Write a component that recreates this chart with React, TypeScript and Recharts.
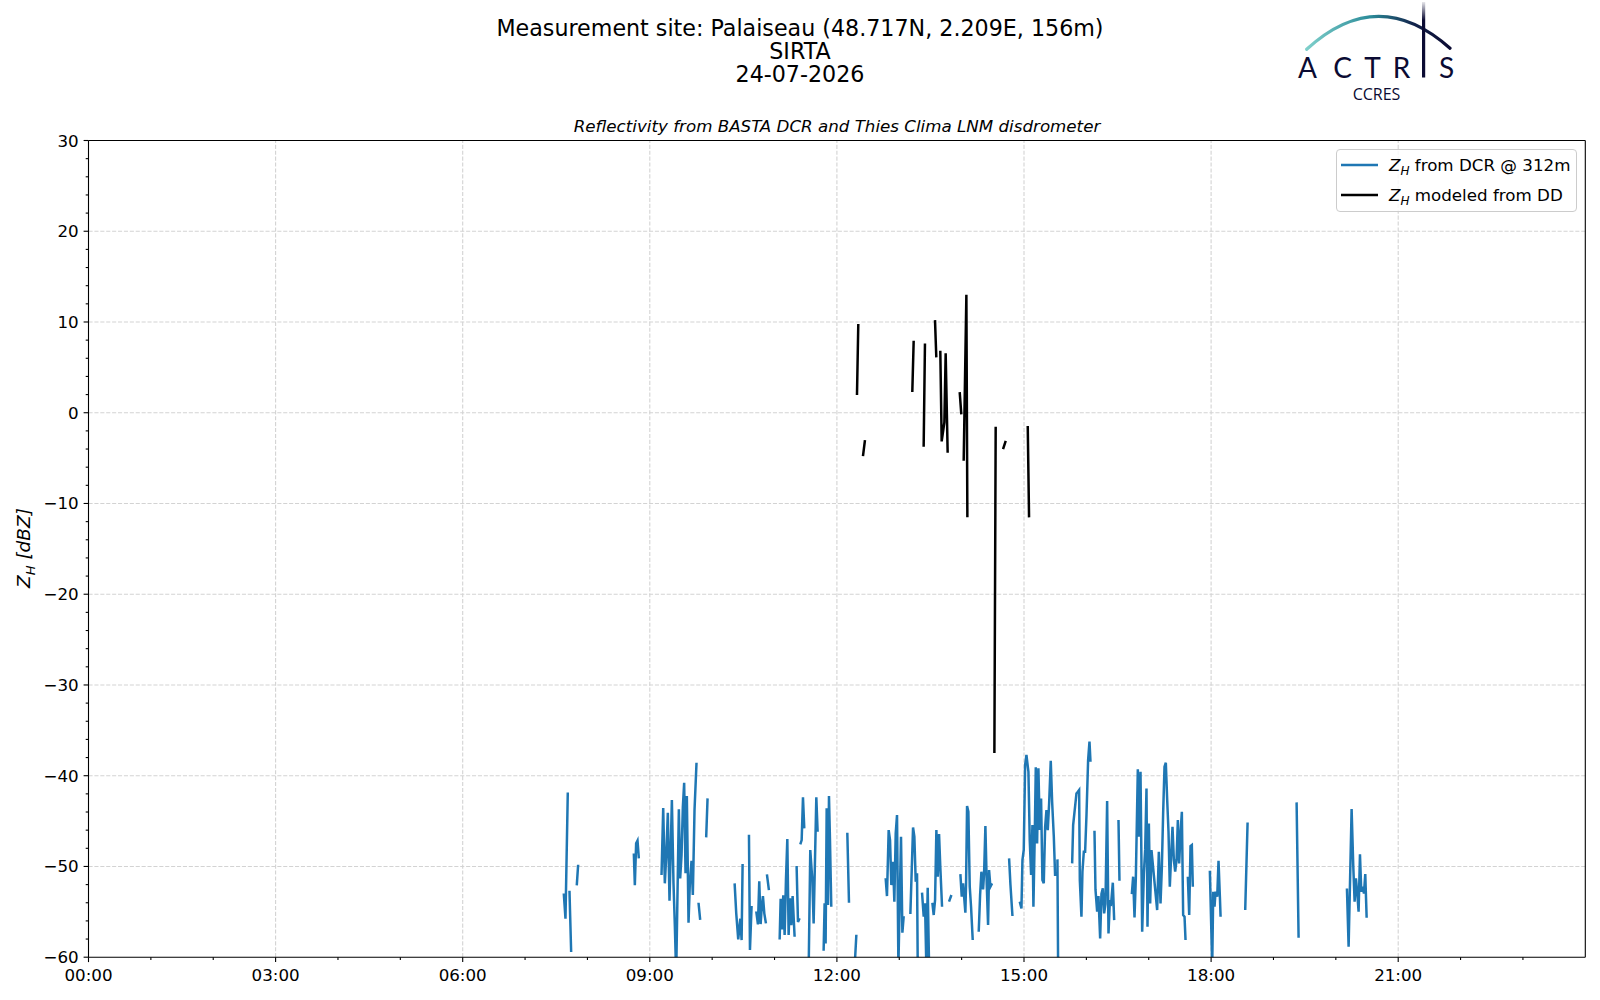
import React from 'react';
import { LineChart, Line, XAxis, YAxis, ReferenceLine, Legend } from 'recharts';

// ---------- Data (hour of day, reflectivity dBZ); each inner array is a continuous segment ----------
const dcrSegments: [number, number][][] = [
  [[7.621, -52.97], [7.648, -55.76], [7.685, -41.84]],
  [[7.712, -52.67], [7.739, -59.43]],
  [[7.829, -52.08], [7.851, -49.81]],
  [[8.744, -48.56], [8.76, -52.08], [8.781, -47.46], [8.803, -47.16], [8.824, -49.11]],
  [[9.188, -50.95], [9.215, -43.56], [9.241, -51.86], [9.263, -48.93], [9.289, -44.08], [9.316, -53.77], [9.354, -42.68], [9.38, -51.86], [9.402, -56.64], [9.423, -62], [9.466, -43.71], [9.487, -51.31], [9.509, -48.74], [9.53, -43.42], [9.551, -40.77], [9.573, -50.76], [9.594, -42.24], [9.621, -56.2], [9.642, -51.86], [9.669, -49.37], [9.69, -53.15], [9.717, -43.78], [9.749, -38.57]],
  [[9.781, -54.0], [9.808, -55.9]],
  [[9.904, -46.8], [9.926, -42.5]],
  [[10.36, -51.86], [10.386, -55.17], [10.418, -58.04], [10.451, -55.76], [10.472, -58.11], [10.488, -49.73]],
  [[10.59, -46.5], [10.606, -59.21], [10.632, -54.36]],
  [[10.707, -54.95], [10.734, -56.38], [10.755, -51.64], [10.777, -56.35], [10.793, -54.66], [10.814, -53.26], [10.836, -55.17], [10.862, -56.27]],
  [[10.878, -50.87], [10.91, -52.6]],
  [[11.082, -58.04], [11.098, -53.55], [11.119, -56.93], [11.14, -53.19], [11.162, -57.56], [11.183, -51.5], [11.205, -46.98], [11.226, -57.56], [11.247, -53.52], [11.269, -56.46], [11.29, -53.26], [11.322, -57.74]],
  [[11.354, -49.95], [11.376, -56.13], [11.402, -55.72]],
  [[11.413, -47.57], [11.435, -47.09], [11.456, -42.39], [11.477, -45.8]],
  [[11.546, -62], [11.573, -48.19], [11.606, -51.5], [11.627, -56.27], [11.67, -42.39], [11.691, -46.17]],
  [[11.787, -59.28], [11.803, -54.07], [11.819, -58.48], [11.836, -43.6], [11.857, -54.25], [11.873, -42.24], [11.889, -47.09], [11.91, -54.44]],
  [[12.167, -46.28], [12.194, -53.99]],
  [[12.285, -61], [12.312, -57.52]],
  [[12.782, -51.28], [12.803, -53.26], [12.83, -45.99], [12.852, -47.09], [12.873, -52.05], [12.9, -49.48], [12.921, -53.88], [12.943, -46.36], [12.964, -44.33], [12.986, -61], [13.028, -46.72], [13.05, -57.3], [13.071, -55.47]],
  [[13.178, -55.24], [13.221, -45.7], [13.242, -46.72], [13.264, -51.68], [13.285, -50.76], [13.296, -61]],
  [[13.365, -52.89], [13.392, -55.54], [13.413, -54.07], [13.434, -61], [13.456, -52.34], [13.478, -61]],
  [[13.531, -54.0], [13.552, -55.35], [13.574, -53.7], [13.595, -45.99], [13.617, -51.13], [13.638, -46.43], [13.659, -50.21], [13.686, -54.44]],
  [[13.798, -53.88], [13.836, -53.15]],
  [[13.98, -50.84], [14.002, -53.33], [14.023, -51.86], [14.06, -55.1], [14.071, -51.86], [14.087, -43.34], [14.108, -43.97], [14.13, -52.23], [14.151, -54.44], [14.178, -58.11]],
  [[14.274, -57.19], [14.296, -53.15], [14.317, -50.58], [14.344, -52.53], [14.36, -50.76], [14.381, -45.55], [14.403, -52.05], [14.424, -56.46], [14.44, -50.4], [14.461, -52.23], [14.488, -51.86]],
  [[14.761, -49.11], [14.783, -52.05], [14.815, -55.46]],
  [[14.932, -53.88], [14.959, -54.62], [14.975, -49.29], [14.996, -48.19], [15.018, -38.82], [15.039, -37.72], [15.071, -39.56], [15.092, -47.09], [15.114, -50.95], [15.135, -45.44], [15.151, -54.44], [15.173, -46.36], [15.189, -39.08], [15.21, -47.46], [15.231, -39.19], [15.253, -45.99], [15.274, -42.5], [15.295, -51.5], [15.317, -51.86], [15.339, -45.62], [15.36, -43.78], [15.381, -45.99], [15.403, -43.05], [15.429, -38.35], [15.451, -42.87], [15.478, -46.72], [15.499, -51.06]],
  [[15.536, -49.22], [15.547, -61]],
  [[15.772, -49.66], [15.788, -45.44], [15.841, -41.95], [15.863, -41.77], [15.884, -41.58], [15.895, -51.5], [15.921, -55.54], [15.937, -50.58], [15.959, -48.38], [15.98, -48.38], [16.002, -44.33], [16.028, -38.27], [16.05, -36.25], [16.066, -38.46]],
  [[16.13, -46.06], [16.146, -52.53], [16.173, -54.99], [16.194, -53.26], [16.221, -57.93], [16.242, -53.04], [16.264, -52.42], [16.285, -55.17], [16.306, -54.14], [16.333, -42.79], [16.355, -57.38], [16.376, -53.88], [16.397, -54.07], [16.424, -51.79], [16.446, -55.91]],
  [[16.515, -44.89], [16.531, -51.57]],
  [[16.729, -53.04], [16.75, -51.13], [16.772, -55.61], [16.793, -51.31], [16.825, -39.3], [16.841, -46.72], [16.868, -39.56], [16.895, -57.19], [16.922, -50.76], [16.943, -48.12], [16.964, -41.4], [16.98, -56.64], [17.002, -45.26], [17.023, -54.07], [17.044, -48.19], [17.135, -54.8], [17.162, -48.38], [17.189, -54.07], [17.21, -50.21], [17.231, -44.15], [17.253, -39.01], [17.274, -38.57], [17.296, -42.68], [17.317, -46.17], [17.338, -52.23], [17.36, -48.74], [17.381, -45.62], [17.403, -49.29], [17.424, -50.58], [17.446, -49.29], [17.467, -44.89], [17.488, -49.66], [17.51, -46.36], [17.531, -43.97], [17.552, -55.35], [17.574, -55.54], [17.59, -58.11]],
  [[17.627, -51.13], [17.649, -55.35], [17.67, -47.75], [17.691, -47.64], [17.707, -52.23]],
  [[17.98, -50.47], [18.018, -61], [18.034, -52.78], [18.055, -54.44], [18.071, -52.78], [18.098, -53.33], [18.119, -49.37], [18.141, -53.33], [18.152, -55.54]],
  [[18.547, -54.8], [18.585, -45.15]],
  [[19.371, -42.94], [19.403, -57.85]],
  [[20.178, -52.42], [20.205, -58.85], [20.253, -43.67], [20.28, -50.03], [20.301, -53.88], [20.322, -51.31], [20.344, -52.97], [20.365, -54.99], [20.387, -48.67], [20.408, -52.78], [20.43, -52.23], [20.451, -52.97], [20.472, -50.84], [20.494, -55.65]],
];

const ddSegments: [number, number][][] = [
  [[12.322, 1.95], [12.343, 9.77]],
  [[12.418, -4.78], [12.45, -3.01]],
  [[13.209, 2.28], [13.231, 7.93]],
  [[13.391, -3.75], [13.412, 7.64]],
  [[13.573, 10.21], [13.594, 6.1]],
  [[13.658, 6.83], [13.68, -3.16], [13.723, -1.07], [13.744, 6.54], [13.776, -4.41]],
  [[13.969, 2.28], [13.995, -0.18]],
  [[14.033, -5.29], [14.076, 13.0], [14.092, -11.53]],
  [[14.525, -37.5], [14.546, -1.54]],
  [[14.664, -4.0], [14.707, -3.09]],
  [[15.06, -1.47], [15.081, -11.53]],
];

const xTickHours = [0, 1, 2, 3, 4, 5, 6, 7, 8, 9, 10, 11, 12, 13, 14, 15, 16, 17, 18, 19, 20, 21, 22, 23];
const xMajorHours = [0, 3, 6, 9, 12, 15, 18, 21];
const yMajorTicks = [-60, -50, -40, -30, -20, -10, 0, 10, 20, 30];
const yTickValues = [-60, -58, -56, -54, -52, -50, -48, -46, -44, -42, -40, -38, -36, -34, -32, -30, -28, -26, -24, -22, -20, -18, -16, -14, -12, -10, -8, -6, -4, -2, 0, 2, 4, 6, 8, 10, 12, 14, 16, 18, 20, 22, 24, 26, 28, 30];

const DCR_NAME = 'Z_H from DCR @ 312m';
const DD_NAME = 'Z_H modeled from DD';

function toSeries(segs: [number, number][][]) {
  const out: { h: number; v: number | null }[] = [];
  segs.forEach((seg, i) => {
    if (i > 0) out.push({ h: seg[0][0], v: null });
    seg.forEach(([h, v]) => out.push({ h, v }));
  });
  return out;
}

const dcrData = toSeries(dcrSegments);
const ddData = toSeries(ddSegments);

const FONT = 'DejaVu Sans';
const fmtHour = (h: number) => `${String(h).padStart(2, '0')}:00`;
const fmtDbz = (v: number) => (v < 0 ? `\u2212${Math.abs(v)}` : `${v}`);

const XTick = (props: any) => {
  const { x, y, payload } = props;
  const v = payload.value;
  const major = xMajorHours.includes(v);
  return (
    <g>
      <line x1={x} x2={x} y1={y} y2={y + (major ? 4.9 : 2.8)} stroke="#000" strokeWidth={1.1} />
      {major && (
        <text x={x} y={y + 24} textAnchor="middle" fontSize={16.7} fontFamily={FONT} fill="#000">
          {fmtHour(v)}
        </text>
      )}
    </g>
  );
};

const YTick = (props: any) => {
  const { x, y, payload } = props;
  const v = payload.value;
  const major = yMajorTicks.includes(v);
  return (
    <g>
      <line x1={x} x2={x - (major ? 4.9 : 2.8)} y1={y} y2={y} stroke="#000" strokeWidth={1.1} />
      {major && (
        <text x={x - 9.8} y={y + 6} textAnchor="end" fontSize={16.7} fontFamily={FONT} fill="#000">
          {fmtDbz(v)}
        </text>
      )}
    </g>
  );
};

const LegendLabel = ({ text }: { text: string }) => {
  const rest = text.startsWith('Z_H') ? text.slice(3) : text;
  return (
    <span style={{ whiteSpace: 'pre' }}>
      <i>Z</i>
      <i style={{ fontSize: 12, position: 'relative', top: 4 }}>H</i>
      {rest}
    </span>
  );
};

const renderLegend = (props: any) => {
  const payload = props.payload || [];
  return (
    <div
      style={{
        width: 241,
        height: 63,
        boxSizing: 'border-box',
        border: '1px solid #cccccc',
        borderRadius: 4,
        background: 'rgba(255,255,255,0.8)',
        paddingLeft: 4,
        fontFamily: FONT,
        fontSize: 16.7,
        color: '#000',
      }}
    >
      {payload.map((p: any, i: number) => (
        <div key={i} style={{ display: 'flex', alignItems: 'center', height: 30 }}>
          <svg width={37} height={6} style={{ display: 'block' }}>
            <line x1={0} x2={37} y1={3} y2={3} stroke={p.color} strokeWidth={2.5} />
          </svg>
          <span style={{ marginLeft: 11 }}>
            <LegendLabel text={String(p.value)} />
          </span>
        </div>
      ))}
    </div>
  );
};

const gridStyle = { stroke: '#d3d3d3', strokeWidth: 1.1, strokeDasharray: '4.1 1.8' };

export default function App() {
  return (
    <div style={{ position: 'absolute', left: 0, top: 0, width: 1600, height: 1000, background: '#fff' }}>
      <div style={{ position: 'absolute', left: 0, top: 0 }}>
        <LineChart width={1600} height={1000} margin={{ top: 140.5, right: 14.7, bottom: 12.8, left: 28.5 }}>
          <XAxis
            type="number"
            dataKey="h"
            domain={[0, 24]}
            ticks={xTickHours}
            interval={0}
            tick={XTick}
            tickLine={false}
            tickSize={0}
            tickMargin={0}
            axisLine={{ stroke: '#000', strokeWidth: 1.1 }}
            height={30}
            allowDataOverflow
          />
          <YAxis
            type="number"
            domain={[-60, 30]}
            ticks={yTickValues}
            interval={0}
            tick={YTick}
            tickLine={false}
            tickSize={0}
            tickMargin={0}
            axisLine={{ stroke: '#000', strokeWidth: 1.1 }}
            width={60}
            allowDataOverflow
          />
          {xMajorHours.filter((h) => h > 0).map((h) => (
            <ReferenceLine key={'gx' + h} x={h} {...gridStyle} />
          ))}
          {yMajorTicks.filter((v) => v > -60 && v < 30).map((v) => (
            <ReferenceLine key={'gy' + v} y={v} {...gridStyle} />
          ))}
          <Line
            data={dcrData}
            dataKey="v"
            name={DCR_NAME}
            type="linear"
            stroke="#1f77b4"
            strokeWidth={2.5}
            dot={false}
            activeDot={false}
            connectNulls={false}
            isAnimationActive={false}
          />
          <Line
            data={ddData}
            dataKey="v"
            name={DD_NAME}
            type="linear"
            stroke="#000000"
            strokeWidth={2.5}
            dot={false}
            activeDot={false}
            connectNulls={false}
            isAnimationActive={false}
          />
          <ReferenceLine y={30} stroke="#000" strokeWidth={1.1} />
          <ReferenceLine x={24} stroke="#000" strokeWidth={1.1} />
          <Legend
            layout="vertical"
            align="center"
            verticalAlign="middle"
            content={renderLegend}
            wrapperStyle={{ left: 1336, top: 149, width: 241, height: 63 }}
          />
        </LineChart>
      </div>
      <svg width={1600} height={1000} style={{ position: 'absolute', left: 0, top: 0, pointerEvents: 'none' }}>
        <defs>
          <linearGradient id="arcGrad" x1="1306" y1="0" x2="1450" y2="0" gradientUnits="userSpaceOnUse">
            <stop offset="0" stopColor="#7fd0cb" />
            <stop offset="0.45" stopColor="#2b8b99" />
            <stop offset="0.75" stopColor="#12224a" />
            <stop offset="1" stopColor="#0b0b33" />
          </linearGradient>
          <linearGradient id="iGrad" x1="0" y1="0" x2="0" y2="80" gradientUnits="userSpaceOnUse">
            <stop offset="0" stopColor="#0b0b33" stopOpacity="0" />
            <stop offset="0.25" stopColor="#0b0b33" stopOpacity="1" />
            <stop offset="1" stopColor="#0b0b33" stopOpacity="1" />
          </linearGradient>
        </defs>
        <g fontFamily={FONT} fill="#000" textAnchor="middle">
          <text x={800} y={36} fontSize={22.2}>Measurement site: Palaiseau (48.717N, 2.209E, 156m)</text>
          <text x={800} y={59} fontSize={22.2}>SIRTA</text>
          <text x={800} y={82} fontSize={22.2}>24-07-2026</text>
          <text x={837} y={131.5} fontSize={16.7} fontStyle="italic">
            Reflectivity from BASTA DCR and Thies Clima LNM disdrometer
          </text>
          <text transform="translate(30,548) rotate(-90)" fontSize={18.5} fontStyle="italic" textAnchor="middle">
            Z<tspan fontSize={13} dy={4.5}>H</tspan>
            <tspan dy={-4.5}> [dBZ]</tspan>
          </text>
        </g>
        <g>
          <path d="M1306.7,49.3 Q1378,-16 1450,48.3" fill="none" stroke="url(#arcGrad)" strokeWidth={3.2} strokeLinecap="round" />
          <rect x={1422} y={2} width={3.2} height={75.5} fill="url(#iGrad)" />
          <g fontFamily="Lato" fontSize={28} fill="#0b0b33" textAnchor="middle">
            <text x={1307.5} y={77.5}>A</text>
            <text x={1342.5} y={77.5}>C</text>
            <text x={1372.5} y={77.5}>T</text>
            <text x={1401.5} y={77.5}>R</text>
            <text x={1446.5} y={77.5}>S</text>
          </g>
          <text x={1376.5} y={100} fontFamily="Open Sans" fontSize={16} fill="#0b0b33" textAnchor="middle">CCRES</text>
        </g>
      </svg>
    </div>
  );
}
